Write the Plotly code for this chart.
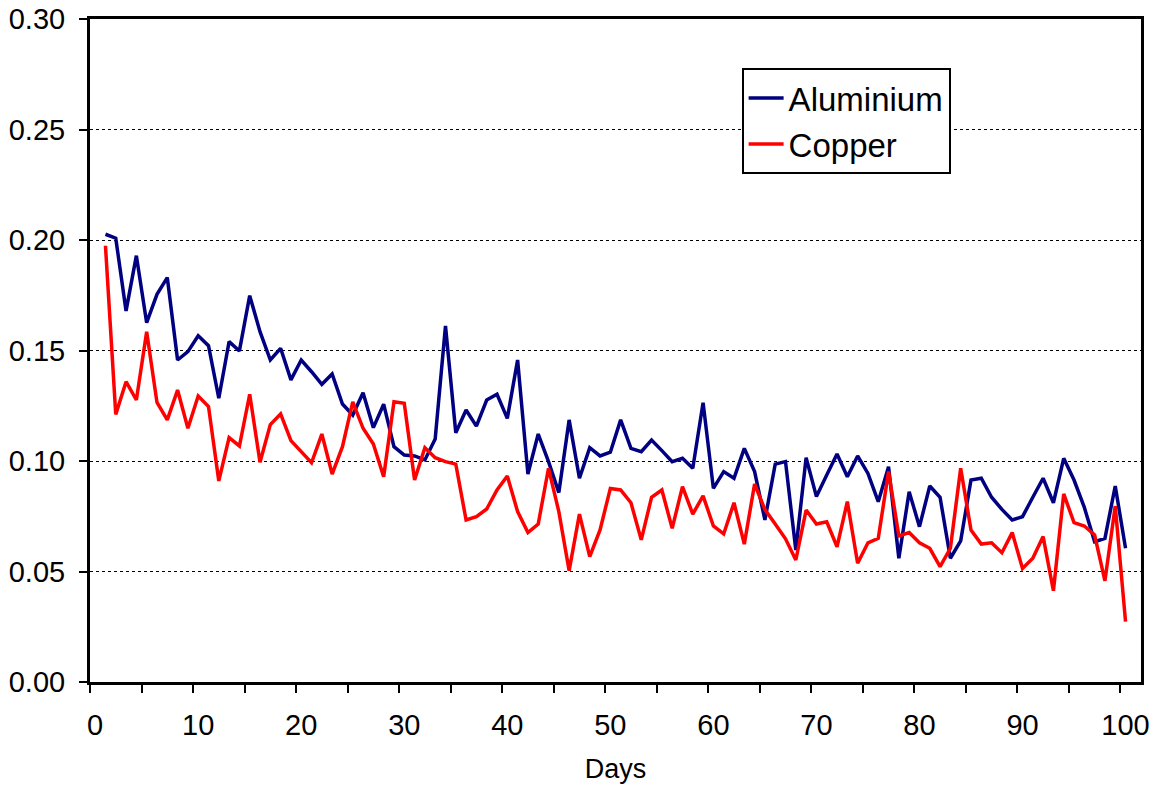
import plotly.graph_objects as go

days = list(range(1, 101))

aluminium = [
    0.2026, 0.2008, 0.1679, 0.1929, 0.1626, 0.1754, 0.1830, 0.1457, 0.1495, 0.1567,
    0.1522, 0.1284, 0.1540, 0.1498, 0.1748, 0.1585, 0.1457, 0.1510, 0.1367, 0.1457,
    0.1404, 0.1347, 0.1394, 0.1258, 0.1208, 0.1309, 0.1151, 0.1257, 0.1065, 0.1027,
    0.1023, 0.1005, 0.1100, 0.1611, 0.1128, 0.1231, 0.1158, 0.1276, 0.1302, 0.1193,
    0.1457, 0.0941, 0.1122, 0.0997, 0.0857, 0.1186, 0.0922, 0.1060, 0.1023, 0.1040,
    0.1186, 0.1057, 0.1042, 0.1095, 0.1047, 0.0997, 0.1012, 0.0967, 0.1264, 0.0876,
    0.0952, 0.0922, 0.1057, 0.0952, 0.0733, 0.0986, 0.0997, 0.0597, 0.1015, 0.0839,
    0.0937, 0.1032, 0.0929, 0.1023, 0.0944, 0.0816, 0.0974, 0.0560, 0.0861, 0.0703,
    0.0887, 0.0836, 0.0560, 0.0639, 0.0914, 0.0922, 0.0836, 0.0781, 0.0733, 0.0748,
    0.0836, 0.0922, 0.0811, 0.1012, 0.0914, 0.0790, 0.0635, 0.0650, 0.0887, 0.0605,
]

copper = [
    0.1974, 0.1211, 0.1359, 0.1276, 0.1585, 0.1265, 0.1186, 0.1321, 0.1148, 0.1294,
    0.1246, 0.0910, 0.1106, 0.1068, 0.1302, 0.0994, 0.1165, 0.1213, 0.1092, 0.1042,
    0.0992, 0.1122, 0.0941, 0.1065, 0.1268, 0.1148, 0.1077, 0.0929, 0.1268, 0.1261,
    0.0914, 0.1060, 0.1015, 0.0997, 0.0986, 0.0733, 0.0748, 0.0783, 0.0869, 0.0932,
    0.0771, 0.0676, 0.0715, 0.0967, 0.0771, 0.0504, 0.0760, 0.0567, 0.0688, 0.0876,
    0.0869, 0.0811, 0.0643, 0.0836, 0.0869, 0.0695, 0.0884, 0.0760, 0.0842, 0.0706,
    0.0670, 0.0811, 0.0624, 0.0896, 0.0780, 0.0715, 0.0648, 0.0552, 0.0778, 0.0715,
    0.0725, 0.0612, 0.0816, 0.0537, 0.0630, 0.0650, 0.0952, 0.0661, 0.0676, 0.0630,
    0.0605, 0.0522, 0.0605, 0.0967, 0.0688, 0.0624, 0.0630, 0.0585, 0.0676, 0.0514,
    0.0560, 0.0658, 0.0413, 0.0851, 0.0721, 0.0706, 0.0665, 0.0458, 0.0796, 0.0273,
]

x_labels = list(range(0, 101, 10))
x_minor = [-0.5 + 5 * k for k in range(21)]
y_ticks = [0.00, 0.05, 0.10, 0.15, 0.20, 0.25, 0.30]

FONT = "Liberation Sans, Arial, sans-serif"

fig = go.Figure()
fig.add_trace(go.Scatter(x=days, y=aluminium, mode="lines", name="Aluminium",
                         line=dict(color="#000080", width=3.5)))
fig.add_trace(go.Scatter(x=days, y=copper, mode="lines", name="Copper",
                         line=dict(color="#FF0000", width=3.5)))

fig.update_layout(
    width=1161, height=787,
    margin=dict(l=90, r=20, t=19, b=105),
    paper_bgcolor="white", plot_bgcolor="white",
    font=dict(family=FONT, color="black", size=29),
    showlegend=True,
    legend=dict(
        x=0.620, y=0.926, xanchor="left", yanchor="top",
        bgcolor="white", bordercolor="black", borderwidth=2,
        font=dict(size=33, family=FONT, color="black"),
        itemwidth=35, tracegroupgap=0,
    ),
    xaxis=dict(
        range=[-0.5, 101.5], automargin=False,
        tickvals=x_labels, ticktext=[str(v) for v in x_labels],
        ticks="outside", ticklen=8, tickcolor="rgba(0,0,0,0)",
        ticklabelstandoff=7, ticklabeloverflow="allow",
        minor=dict(tickvals=x_minor, ticks="outside", ticklen=8, tickwidth=2, tickcolor="black"),
        showline=True, linecolor="black", linewidth=3, mirror=True,
        showgrid=False, zeroline=False,
        title=dict(text="Days", font=dict(size=27, family=FONT), standoff=20),
        tickfont=dict(size=29, family=FONT),
    ),
    yaxis=dict(
        range=[0, 0.30], automargin=False,
        tickvals=y_ticks, tickformat=".2f",
        ticks="outside", ticklen=8, tickwidth=2, tickcolor="black",
        ticklabelstandoff=8, ticklabeloverflow="allow",
        showline=True, linecolor="black", linewidth=3, mirror=True,
        showgrid=True, gridcolor="black", gridwidth=1, griddash="dot",
        zeroline=False,
        tickfont=dict(size=29, family=FONT),
    ),
)

# remove the default 8px page margin so the figure sits at the page origin
fig.write_html("out.html", config={"displayModeBar": False},
               post_script="document.body.style.margin='0px';")
